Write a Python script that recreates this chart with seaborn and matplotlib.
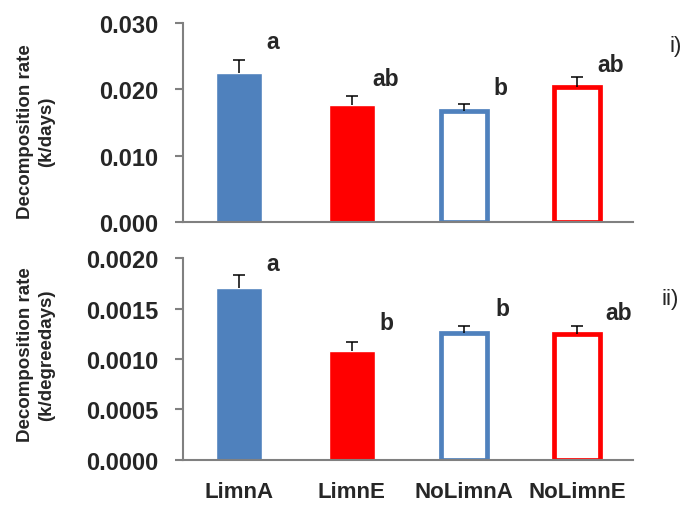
import numpy as np
import pandas as pd
import seaborn as sns
import matplotlib.pyplot as plt

treatments = ['LimnA', 'LimnE', 'NoLimnA', 'NoLimnE']
rate_days = [0.0225, 0.0177, 0.0168, 0.0203]
err_days = [0.0019, 0.0013, 0.0010, 0.0015]
rate_degdays = [0.00170, 0.00108, 0.00126, 0.00125]
err_degdays = [0.000135, 0.00009, 0.00007, 0.00008]
letters_days = ['a', 'ab', 'b', 'ab']
letters_degdays = ['a', 'b', 'b', 'ab']
bar_colors = ['#4F81BD', '#FF0000', '#4F81BD', '#FF0000']
hollow = [False, False, True, True]

sns.set_style('white')
plt.rcParams['font.family'] = ['Liberation Sans', 'DejaVu Sans']

fig = plt.figure(figsize=(6.83, 5.06), dpi=100)
ax1 = fig.add_axes([0.268, 0.559, 0.659, 0.394])
ax2 = fig.add_axes([0.268, 0.089, 0.659, 0.399])


def panel(ax, vals, errs, letters, ymax, step, fmt, ylab, ylab_y, tag, tag_x, tag_y,
          letter_off, letter_dx):
    df = pd.DataFrame({'treat': treatments, 'val': vals})
    sns.barplot(data=df, x='treat', y='val', hue='treat', palette=bar_colors,
                width=0.41, legend=False, ax=ax, saturation=1)
    for p, c, h in zip(ax.patches, bar_colors, hollow):
        if h:
            p.set_facecolor('white')
            p.set_edgecolor(c)
            p.set_linewidth(3.4)
    x = np.arange(len(treatments))
    eb = ax.errorbar(x, vals, yerr=[np.zeros(len(errs)), errs], fmt='none',
                     ecolor='black', elinewidth=1.1, capsize=4, capthick=1.1)
    eb[1][0].set_visible(False)
    for xi, v, e, lt, off, dx in zip(x, vals, errs, letters, letter_off, letter_dx):
        ax.text(xi + dx, v + e + off * ymax, lt,
                ha='center', va='bottom', fontsize=16.5, fontweight='bold')
    ax.set_xlim(-0.5, 3.5)
    ax.set_ylim(0, ymax)
    ticks = np.arange(0, ymax + step / 2, step)
    ax.set_yticks(ticks)
    ax.set_yticklabels([fmt.format(t) for t in ticks], fontsize=17, fontweight='bold')
    ax.set_ylabel(ylab, fontsize=13.5, fontweight='bold', va='center', linespacing=1.35)
    ax.yaxis.set_label_coords(-0.327, ylab_y)
    ax.set_xlabel('')
    for s in ['top', 'right']:
        ax.spines[s].set_visible(False)
    for s in ['left', 'bottom']:
        ax.spines[s].set_color('#808080')
        ax.spines[s].set_linewidth(1.5)
    ax.tick_params(axis='y', left=True, length=6, width=1.5, color='#808080', pad=12)
    ax.tick_params(axis='x', bottom=False)
    ax.text(tag_x, tag_y, tag, transform=ax.transAxes, fontsize=16,
            ha='left', va='center')


panel(ax1, rate_days, err_days, letters_days, 0.030, 0.010, '{:.3f}',
      'Decomposition rate\n(k/days)', 0.46, 'i)', 1.08, 0.885,
      [0.035, 0.03, 0.025, 0.008], [0.3, 0.3, 0.32, 0.3])
panel(ax2, rate_degdays, err_degdays, letters_degdays, 0.0020, 0.0005, '{:.4f}',
      'Decomposition rate\n(k/degreedays)', 0.525, 'ii)', 1.062, 0.8,
      [0.0, 0.04, 0.03, 0.01], [0.3, 0.31, 0.34, 0.37])

ax1.set_xticklabels([])
ax2.set_xticks(range(len(treatments)))
ax2.set_xticklabels(treatments, fontsize=16, fontweight='bold')
ax2.tick_params(axis='x', pad=12)

fig.savefig('out.png', dpi=100)
